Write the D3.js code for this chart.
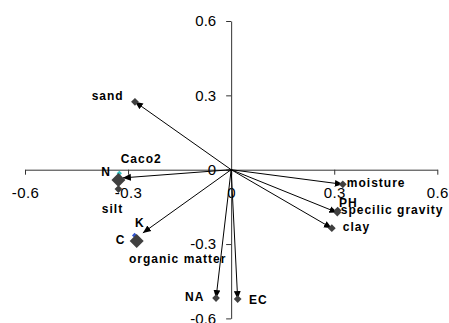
<!DOCTYPE html>
<html><head><meta charset="utf-8">
<script src="https://cdn.jsdelivr.net/npm/d3@7"></script>
<style>body{margin:0;background:#fff}svg{display:block}</style>
</head><body>
<svg id="c" width="449" height="323"></svg>
<script>
// ---- data ----
const variables = ["sand","Caco2","N","silt","K","C","organic matter","moisture","PH","specilic gravity","clay","NA","EC"];
const loadingX  = [-0.280,-0.3255,-0.328,-0.328,-0.281,-0.275,-0.275, 0.325, 0.310, 0.309, 0.293,-0.044, 0.019];
const loadingY  = [ 0.274,-0.0145,-0.042,-0.078,-0.265,-0.288,-0.288,-0.059,-0.165,-0.173,-0.236,-0.518,-0.522];
const markerKind = ["small","tiny","big","small","tiny","big","small","small","small","small","small","small","small"];
const markerFill = ["#404040","#33c6c6","#404040","#404040","#3355cc","#404040","#404040","#404040","#404040","#404040","#404040","#404040","#404040"];
const arrowVars = ["sand","N","K","moisture","specilic gravity","clay","NA","EC"];
const arrowX    = [-0.280,-0.315,-0.257, 0.325, 0.309, 0.293,-0.044, 0.019];
const arrowY    = [ 0.274,-0.033,-0.255,-0.059,-0.173,-0.236,-0.518,-0.522];
const xTicks = [-0.6,-0.3,0,0.3,0.6];
const yTicks = [-0.6,-0.3,0,0.3,0.6];

// ---- layout (label offsets from point, px) ----
const labelDx = [-43.3, 1.4,-17.3,-16.6, 0.5,-21,-7.7, 4, 1.3, 3.4, 11,-31, 11.3];
const labelDy = [ -1.7,-10.3, -4, 24, -8.5, 3, 22, 2.7,-3.6, 1.3, 3.2, 2.7, 5];

const svg = d3.select("#c");
const x = d3.scaleLinear().domain([-0.6,0.6]).range([25,437.3]);
const y = d3.scaleLinear().domain([-0.6,0.6]).range([318.4,21.0]);
const fmt = d => d===0 ? "0" : String(d);
const FONT = "'Liberation Sans', Arial, sans-serif";

// axes
const gx = svg.append("g").attr("transform",`translate(0,${y(0)})`)
  .call(d3.axisBottom(x).tickValues(xTicks).tickFormat(fmt).tickSize(5).tickSizeOuter(0).tickPadding(13));
const gy = svg.append("g").attr("transform",`translate(${x(0)},0)`)
  .call(d3.axisLeft(y).tickValues(yTicks).tickFormat(fmt).tickSize(5).tickSizeOuter(0).tickPadding(10));
[gx,gy].forEach(g=>{
  g.select(".domain").attr("stroke","#333");
  g.selectAll(".tick line").attr("stroke","#333");
  g.selectAll(".tick text").attr("font-family",FONT).attr("font-size",15).attr("fill","#000");
});
gx.selectAll(".tick text").attr("letter-spacing","0.4px");

// arrowhead
svg.append("defs").append("marker")
  .attr("id","ah").attr("markerUnits","userSpaceOnUse")
  .attr("markerWidth",8).attr("markerHeight",8)
  .attr("viewBox","0 -3 7 6").attr("refX",7).attr("refY",0).attr("orient","auto")
  .append("path").attr("d","M0,-3L7,0L0,3Z").attr("fill","#000");

// arrows
svg.append("g").selectAll("line").data(arrowVars).join("line")
  .attr("x1",x(0)).attr("y1",y(0))
  .attr("x2",(d,i)=>x(arrowX[i])).attr("y2",(d,i)=>y(arrowY[i]))
  .attr("stroke","#000").attr("stroke-width",1)
  .attr("marker-end","url(#ah)");

// markers
const sizes = {tiny:14, small:30, big:98};
const sym = d3.symbol().type(d3.symbolSquare);
const order = d3.range(variables.length).sort((a,b)=>(markerKind[a]==="big")-(markerKind[b]==="big"));
svg.append("g").selectAll("path").data(order).join("path")
  .attr("d",i=>sym.size(sizes[markerKind[i]])())
  .attr("transform",i=>`translate(${x(loadingX[i])},${y(loadingY[i])}) rotate(45)`)
  .attr("fill",i=>markerFill[i]);

// labels
svg.append("g").selectAll("text").data(variables).join("text")
  .attr("x",(d,i)=>x(loadingX[i])+labelDx[i])
  .attr("y",(d,i)=>y(loadingY[i])+labelDy[i])
  .attr("font-family",FONT).attr("font-weight","bold").attr("font-size",12)
  .attr("letter-spacing","1px").attr("fill","#000")
  .text(d=>d);
</script>
</body></html>
